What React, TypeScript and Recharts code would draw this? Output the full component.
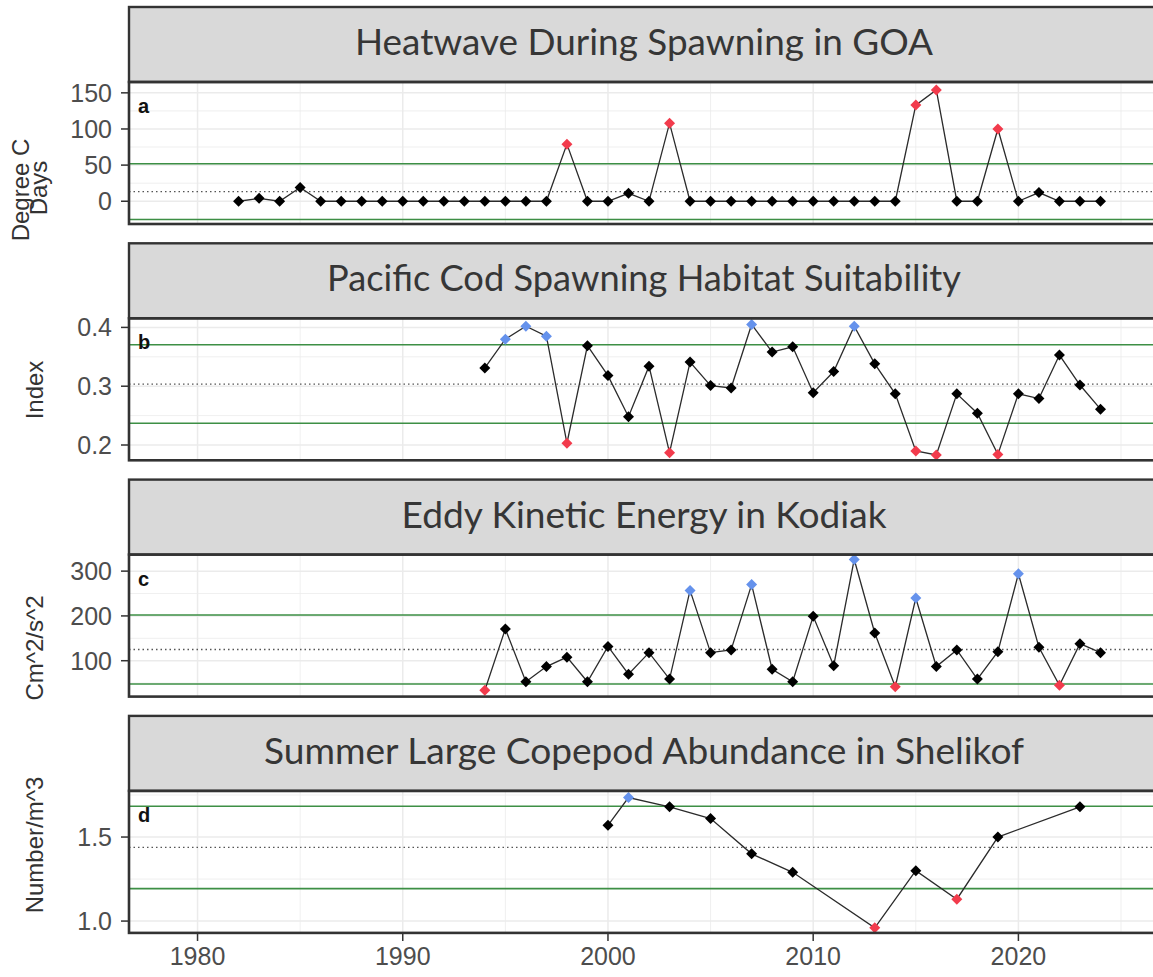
import React from 'react';
import { LineChart, Line, XAxis, YAxis, ReferenceLine } from 'recharts';

// ---- data ----
const panelTitles = [
  'Heatwave During Spawning in GOA',
  'Pacific Cod Spawning Habitat Suitability',
  'Eddy Kinetic Energy in Kodiak',
  'Summer Large Copepod Abundance in Shelikof',
];
const panelTags = ['a', 'b', 'c', 'd'];
const yTitles = [['Degree C', 'Days'], ['Index'], ['Cm^2/s^2'], ['Number/m^3']];

const heatYears = [
  1982, 1983, 1984, 1985, 1986, 1987, 1988, 1989, 1990, 1991, 1992, 1993, 1994, 1995, 1996,
  1997, 1998, 1999, 2000, 2001, 2002, 2003, 2004, 2005, 2006, 2007, 2008, 2009, 2010, 2011,
  2012, 2013, 2014, 2015, 2016, 2017, 2018, 2019, 2020, 2021, 2022, 2023, 2024,
];
const heatValues = [
  0, 4, 0, 19, 0, 0, 0, 0, 0, 0, 0, 0, 0, 0, 0,
  0, 79, 0, 0, 11, 0, 108, 0, 0, 0, 0, 0, 0, 0, 0,
  0, 0, 0, 133, 154, 0, 0, 100, 0, 12, 0, 0, 0,
];

const codYears = [
  1994, 1995, 1996, 1997, 1998, 1999, 2000, 2001, 2002, 2003, 2004, 2005, 2006, 2007, 2008,
  2009, 2010, 2011, 2012, 2013, 2014, 2015, 2016, 2017, 2018, 2019, 2020, 2021, 2022, 2023, 2024,
];
const codValues = [
  0.331, 0.38, 0.402, 0.385, 0.203, 0.369, 0.318, 0.248, 0.334, 0.187, 0.341, 0.301, 0.297, 0.405, 0.358,
  0.367, 0.289, 0.325, 0.402, 0.338, 0.287, 0.19, 0.183, 0.287, 0.254, 0.184, 0.287, 0.279, 0.353, 0.302, 0.261,
];

const ekeYears = codYears;
const ekeValues = [
  34, 171, 53, 87, 108, 53, 132, 70, 118, 59, 257, 118, 124, 270, 81,
  53, 199, 89, 326, 162, 42, 240, 87, 124, 59, 120, 294, 130, 45, 138, 118,
];

const copepodYears = [2000, 2001, 2003, 2005, 2007, 2009, 2013, 2015, 2017, 2019, 2023];
const copepodValues = [1.57, 1.735, 1.68, 1.61, 1.4, 1.29, 0.96, 1.3, 1.13, 1.5, 1.68];

// long-term mean and 1 sd for each series
const means = [13.3, 0.3037, 125, 1.438];
const sds = [38.5, 0.0668, 77, 0.245];

const yDomains: [number, number][] = [[-31.5, 165], [0.1745, 0.416], [19, 336], [0.929, 1.774]];
const yTicks = [[0, 50, 100, 150], [0.2, 0.3, 0.4], [100, 200, 300], [1.0, 1.5]];
const yMinor = [[-25, 25, 75, 125], [0.25, 0.35], [50, 150, 250], [1.25, 1.75]];
const tickDigits = [0, 1, 0, 1];

const xTicks = [1980, 1990, 2000, 2010, 2020];
const xMinor = [1985, 1995, 2005, 2015, 2025];

// ---- layout ----
const W = 1153;
const H = 977;
const PLOT_LEFT = 129;
const CHART_W = 1160;
const HEADER_H = 75;
const PLOT_H = 142;
const PAD = 14; // room above / below the plot so tick labels are not clipped
const FIRST_TOP = 7;
const STEP = 236.3;
const X_DOMAIN: [number, number] = [1976.66, 2026.9];
const titleWidths = [578, 634, 485, 760];
const yTitleCenters = [[190, 188], [390], [648], [845]];

const RED = '#F23B4C';
const BLUE = '#6592EC';
const GREEN = '#3D8F45';
const INK = '#333333';
const GRID = '#EBEBEB';
const TICK_FONT = '"Liberation Sans", Arial, sans-serif';

const series = [
  { years: heatYears, values: heatValues, hi: RED, lo: BLUE },
  { years: codYears, values: codValues, hi: BLUE, lo: RED },
  { years: ekeYears, values: ekeValues, hi: BLUE, lo: RED },
  { years: copepodYears, values: copepodValues, hi: BLUE, lo: RED },
];

function Panel({ i }: { i: number }) {
  const s = series[i];
  const data = s.years.map((year, k) => ({ year, value: s.values[k] }));
  const upper = means[i] + sds[i];
  const lower = means[i] - sds[i];
  const isBottom = i === 3;
  const top = FIRST_TOP + i * STEP + HEADER_H;

  const dot = (p: any) => {
    const { cx, cy, payload, index } = p;
    if (cx == null || cy == null) return <g key={`d${index}`} />;
    const v = payload.value;
    const fill = v > upper ? s.hi : v < lower ? s.lo : '#000';
    const r = 5.5;
    return (
      <path
        key={`d${index}`}
        d={`M${cx},${cy - r} L${cx + r},${cy} L${cx},${cy + r} L${cx - r},${cy} Z`}
        fill={fill}
      />
    );
  };

  return (
    <div style={{ position: 'absolute', left: 0, top: top - PAD }}>
      <LineChart
        width={CHART_W}
        height={PLOT_H + PAD + (isBottom ? 46 : PAD)}
        data={data}
        margin={{ top: PAD, right: 0, bottom: isBottom ? 0 : PAD, left: 0 }}
      >
        <XAxis
          type="number"
          dataKey="year"
          domain={X_DOMAIN}
          allowDataOverflow
          ticks={xTicks}
          interval={0}
          hide={!isBottom}
          height={46}
          axisLine={false}
          tickLine={{ stroke: INK, strokeWidth: 1.5 }}
          tickSize={8}
          tickMargin={6}
          tick={{ fontSize: 25, fill: '#4D4D4D', fontFamily: TICK_FONT }}
        />
        <YAxis
          type="number"
          domain={yDomains[i]}
          allowDataOverflow
          ticks={yTicks[i]}
          interval={0}
          width={PLOT_LEFT}
          axisLine={false}
          tickLine={{ stroke: INK, strokeWidth: 1.5 }}
          tickSize={8}
          tickMargin={9}
          tickFormatter={(v: number) => v.toFixed(tickDigits[i])}
          tick={{ fontSize: 25, fill: '#4D4D4D', fontFamily: TICK_FONT }}
        />
        {xMinor.map(x => (
          <ReferenceLine key={`xm${x}`} x={x} stroke={GRID} strokeWidth={0.8} />
        ))}
        {xTicks.map(x => (
          <ReferenceLine key={`xM${x}`} x={x} stroke={GRID} strokeWidth={1.5} />
        ))}
        {yMinor[i].map(y => (
          <ReferenceLine key={`ym${y}`} y={y} stroke={GRID} strokeWidth={0.8} />
        ))}
        {yTicks[i].map(y => (
          <ReferenceLine key={`yM${y}`} y={y} stroke={GRID} strokeWidth={1.5} />
        ))}
        <ReferenceLine y={upper} stroke={GREEN} strokeWidth={1.6} />
        <ReferenceLine y={lower} stroke={GREEN} strokeWidth={1.6} />
        <ReferenceLine y={means[i]} stroke="#555" strokeWidth={1.3} strokeDasharray="1.5 3" />
        <Line
          type="linear"
          dataKey="value"
          stroke="#2b2b2b"
          strokeWidth={1.3}
          dot={dot}
          activeDot={false}
          isAnimationActive={false}
        />
      </LineChart>
    </div>
  );
}

function Overlay() {
  return (
    <svg
      width={W}
      height={H}
      style={{ position: 'absolute', left: 0, top: 0, pointerEvents: 'none' }}
    >
      {panelTitles.map((title, i) => {
        const hTop = FIRST_TOP + i * STEP;
        const pTop = hTop + HEADER_H;
        return (
          <g key={title}>
            <rect x={PLOT_LEFT} y={hTop} width={CHART_W - PLOT_LEFT} height={HEADER_H} fill="#D9D9D9" stroke={INK} strokeWidth={2.4} />
            <text
              x={644}
              y={hTop + 48}
              textAnchor="middle"
              fontFamily="Lato, 'Open Sans', sans-serif"
              fontSize={36}
              fill="#363636"
              textLength={titleWidths[i]}
              lengthAdjust="spacingAndGlyphs"
            >
              {title}
            </text>
            <rect x={PLOT_LEFT} y={pTop} width={CHART_W - PLOT_LEFT} height={PLOT_H} fill="none" stroke={INK} strokeWidth={2.6} />
            <text x={138} y={pTop + 31} fontFamily={TICK_FONT} fontWeight="bold" fontSize={20} fill="#111">
              {panelTags[i]}
            </text>
            {yTitles[i].map((line, k) => {
              const lines = yTitles[i].length;
              const bx = lines === 2 ? (k === 0 ? 29 : 47) : 43;
              const cy = yTitleCenters[i][k];
              return (
                <text
                  key={line}
                  x={bx}
                  y={cy}
                  transform={`rotate(-90 ${bx} ${cy})`}
                  textAnchor="middle"
                  fontFamily={TICK_FONT}
                  fontSize={24}
                  fill="#333"
                >
                  {line}
                </text>
              );
            })}
          </g>
        );
      })}
    </svg>
  );
}

export default function App() {
  return (
    <div
      style={{
        position: 'absolute',
        left: 0,
        top: 0,
        width: W,
        height: H,
        overflow: 'hidden',
        background: '#fff',
      }}
    >
      {[0, 1, 2, 3].map(i => (
        <Panel key={i} i={i} />
      ))}
      <Overlay />
    </div>
  );
}
